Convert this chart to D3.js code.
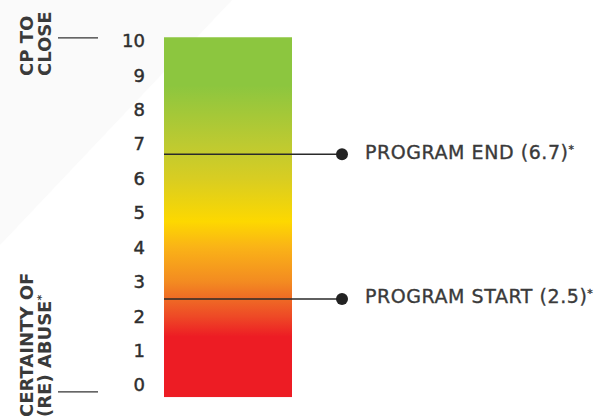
<!DOCTYPE html>
<html>
<head>
<meta charset="utf-8">
<script src="https://cdn.jsdelivr.net/npm/d3@7"></script>
<style>
  html, body { margin: 0; padding: 0; background: #ffffff; }
  svg { display: block; }
  text { font-family: "DejaVu Sans", sans-serif; }
</style>
</head>
<body>
<svg id="chart" width="598" height="416"></svg>
<script>
// Scale ticks
const tickValues = [0, 1, 2, 3, 4, 5, 6, 7, 8, 9, 10];

// Colour ramp of the scale bar (value -> colour)
const stopValues = [0, 1.4, 2.0, 2.5, 3.0, 4.0, 4.75, 6.0, 7.0, 8.7, 10];
const stopColors = ["#ed1c24", "#ed1c24", "#ee4a26", "#ef6a25", "#f38b21", "#fab317", "#fdd800", "#d8cd22", "#bdca31", "#8cc63f", "#8cc63f"];

// Markers placed on the scale
const markerLabels = ["PROGRAM END (6.7)", "PROGRAM START (2.5)"];
const markerValues = [6.7, 2.5];

// Extremes of the scale and their captions
const barExtent = [-0.35, 10.1];
const endValues = [10.08, -0.2];
const endCaptions = [["CP TO", "CLOSE"], ["CERTAINTY OF", "(RE) ABUSE*"]];

const svg = d3.select("#chart");

const y = d3.scaleLinear().domain([0, 10]).range([385, 40.7]);
const barLeft = 164, barRight = 292;

// faint backdrop shading in the upper-left corner
svg.append("path")
  .attr("d", "M0,0 L232,0 L0,245 Z")
  .attr("fill", "#fafafa");

// gradient for the bar, defined in value space via the y scale
const defs = svg.append("defs");
const grad = defs.append("linearGradient")
  .attr("id", "scaleGrad")
  .attr("gradientUnits", "userSpaceOnUse")
  .attr("x1", 0).attr("x2", 0)
  .attr("y1", y(barExtent[0])).attr("y2", y(barExtent[1]));
const span = barExtent[1] - barExtent[0];
grad.selectAll("stop")
  .data(stopValues.map((v, i) => ({ v, c: stopColors[i] })))
  .join("stop")
  .attr("offset", d => Math.max(0, Math.min(1, (d.v - barExtent[0]) / span)))
  .attr("stop-color", d => d.c);

svg.append("rect")
  .attr("x", barLeft)
  .attr("y", y(barExtent[1]))
  .attr("width", barRight - barLeft)
  .attr("height", y(barExtent[0]) - y(barExtent[1]))
  .attr("fill", "url(#scaleGrad)");

// tick numbers
svg.append("g")
  .selectAll("text")
  .data(tickValues)
  .join("text")
  .attr("x", 145)
  .attr("y", d => y(d))
  .attr("dy", "0.36em")
  .attr("text-anchor", "end")
  .attr("font-size", 18)
  .attr("fill", "#2e2e2e")
  .attr("stroke", "#2e2e2e")
  .attr("stroke-width", 0.45)
  .text(d => d);

// short rules at each end of the scale
svg.append("g")
  .selectAll("line")
  .data(endValues)
  .join("line")
  .attr("x1", 58).attr("x2", 98)
  .attr("y1", d => y(d)).attr("y2", d => y(d))
  .attr("stroke", "#333333")
  .attr("stroke-width", 1.3);

// rotated captions for the two ends
const captionStart = [76, 417];
endCaptions.forEach((lines, i) => {
  const g = svg.append("g");
  lines.forEach((line, j) => {
    const t = g.append("text")
      .attr("transform", `translate(${33 + j * 18},${captionStart[i]}) rotate(-90)`)
      .attr("font-size", 18)
      .attr("font-weight", "bold")
      .attr("fill", "#3a3a3a");
    const star = line.endsWith("*");
    t.append("tspan").text(star ? line.slice(0, -1) : line);
    if (star) t.append("tspan").attr("font-size", 11).attr("dy", -6).text("*");
  });
});

// marker lines, dots and labels
const markers = svg.append("g")
  .selectAll("g")
  .data(markerValues.map((v, i) => ({ v, label: markerLabels[i] })))
  .join("g");

markers.append("line")
  .attr("x1", barLeft).attr("x2", 342)
  .attr("y1", d => y(d.v)).attr("y2", d => y(d.v))
  .attr("stroke", "#2a2a2a")
  .attr("stroke-width", 1.5);

markers.append("circle")
  .attr("cx", 342)
  .attr("cy", d => y(d.v))
  .attr("r", 6)
  .attr("fill", "#222222");

const lbl = markers.append("text")
  .attr("x", 365)
  .attr("y", d => y(d.v) + 4.5)
  .attr("font-size", 19)
  .attr("letter-spacing", 0.55)
  .attr("fill", "#3a3a3a")
  .attr("stroke", "#3a3a3a")
  .attr("stroke-width", 0.35);
lbl.append("tspan").text(d => d.label);
lbl.append("tspan").attr("font-size", 11).attr("dy", -6).text("*");
</script>
</body>
</html>
